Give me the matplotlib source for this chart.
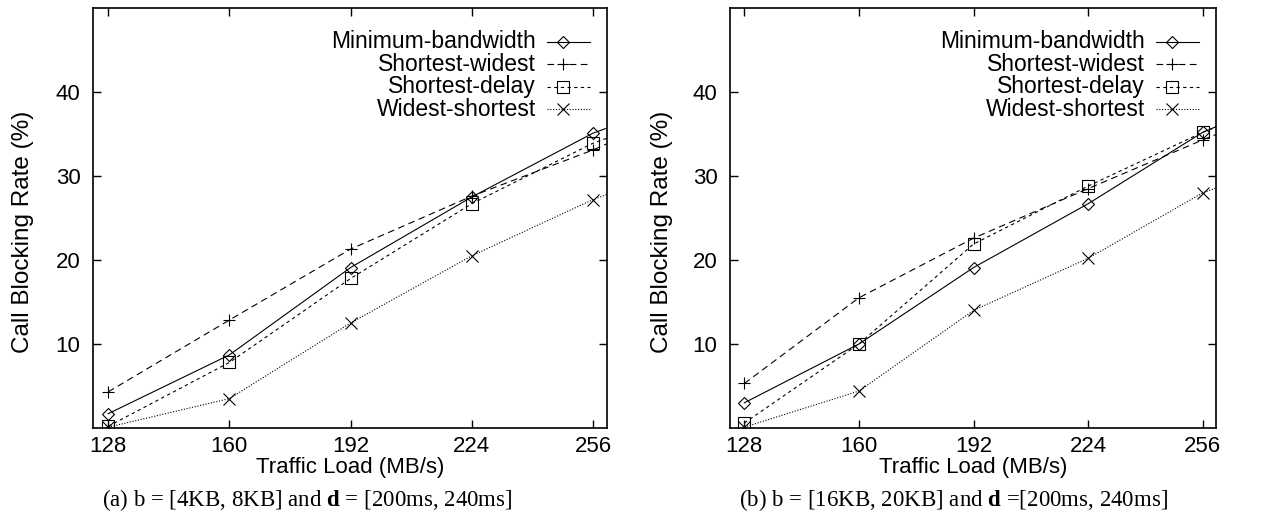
import matplotlib
matplotlib.use("Agg")
import matplotlib.pyplot as plt
from matplotlib.lines import Line2D

plt.rcParams["font.family"] = ["Liberation Sans", "DejaVu Sans"]
plt.rcParams["mathtext.fontset"] = "custom"
plt.rcParams["mathtext.bf"] = "Liberation Serif:bold"
plt.rcParams["mathtext.rm"] = "Liberation Serif"

# traffic load (MB/s); last point lies past the axis edge (only its slope shows)
loads = [128, 160, 192, 224, 256, 288]
tick_loads = [128, 160, 192, 224, 256]
y_ticks = [10, 20, 30, 40]

series_names = ["Minimum-bandwidth", "Shortest-widest", "Shortest-delay", "Widest-shortest"]

# (a) b = [4KB, 8KB]
min_bw_a = [1.7, 8.7, 19.1, 27.5, 35.1, 40.3]
short_wide_a = [4.3, 12.85, 21.3, 27.6, 33.1, 39.5]
short_delay_a = [0.2, 7.8, 17.8, 26.7, 33.9, 39.1]
wide_short_a = [0.1, 3.5, 12.5, 20.5, 27.2, 32.4]

# (b) b = [16KB, 20KB]
min_bw_b = [3.0, 10.0, 19.1, 26.7, 35.2, 41.0]
short_wide_b = [5.3, 15.5, 22.6, 28.5, 34.3, 39.8]
short_delay_b = [0.6, 10.0, 21.9, 28.8, 35.2, 40.5]
wide_short_b = [0.1, 4.4, 14.0, 20.2, 28.0, 32.8]

captions = [
    r"(a) b = [4KB, 8KB] and $\mathbf{d}$ = [200ms, 240ms]",
    r"(b) b = [16KB, 20KB] and $\mathbf{d}$ =[200ms, 240ms]",
]

styles = [
    dict(ls="-", marker="D", ms=6.5),
    dict(ls=(0, (6, 4)), marker="+", ms=9),
    dict(ls=(0, (3, 3)), marker="s", ms=8.5),
    dict(ls=(0, (1, 1.5)), marker="x", ms=8.5),
]

W, H = 1268, 521
fig = plt.figure(figsize=(W / 100, H / 100), dpi=100)

panels = [
    ([93, 8, 514, 420], [min_bw_a, short_wide_a, short_delay_a, wide_short_a], 23),
    ([730, 8, 486, 420], [min_bw_b, short_wide_b, short_delay_b, wide_short_b], 662),
]

for i, (rect, data, ylab_x) in enumerate(panels):
    x0, top, w, h = rect
    ax = fig.add_axes([x0 / W, 1 - (top + h) / H, w / W, h / H])
    for vals, st in zip(data, styles):
        ax.plot(loads, vals, color="black", lw=0.8, ls=st["ls"],
                marker=st["marker"], ms=st["ms"], mfc="none", mec="black", mew=0.8)
    ax.set_xlim(124, 259.7)
    ax.set_ylim(0, 50)
    ax.set_xticks(tick_loads)
    ax.set_yticks(y_ticks)
    ax.tick_params(direction="in", length=6, width=1, top=True, right=True,
                   labelsize=16)
    ax.tick_params(axis="x", pad=6)
    ax.tick_params(axis="y", pad=9)
    for sp in ax.spines.values():
        sp.set_linewidth(1.2)
    ax.set_xlabel("Traffic Load (MB/s)", fontsize=16, labelpad=0)
    ax.set_ylabel("Call Blocking Rate (%)", fontsize=17.5, va="center")
    ax.yaxis.set_label_coords((ylab_x - x0) / w, 1 - (232 - top) / h)

    # gnuplot-like key: right aligned text, sample line to the right
    for j, (name, st) in enumerate(zip(series_names, styles)):
        yf = 0.920 - j * 0.0535
        ax.text(1 - 71 / w, yf, name, transform=ax.transAxes, ha="right",
                va="center", fontsize=16.5)
        ax.add_line(Line2D([1 - 60 / w, 1 - 17 / w], [yf, yf], transform=ax.transAxes,
                           color="black", lw=0.8, ls=st["ls"]))
        ax.add_line(Line2D([1 - 44 / w], [yf], transform=ax.transAxes, color="black",
                           marker=st["marker"], ms=st["ms"], mfc="none", mew=0.8))

    fig.text((x0 + 9) / W, 1 - 500 / H, captions[i], fontsize=16.5,
             family="Liberation Serif", ha="left", va="center")

fig.savefig("out.png", dpi=100)
